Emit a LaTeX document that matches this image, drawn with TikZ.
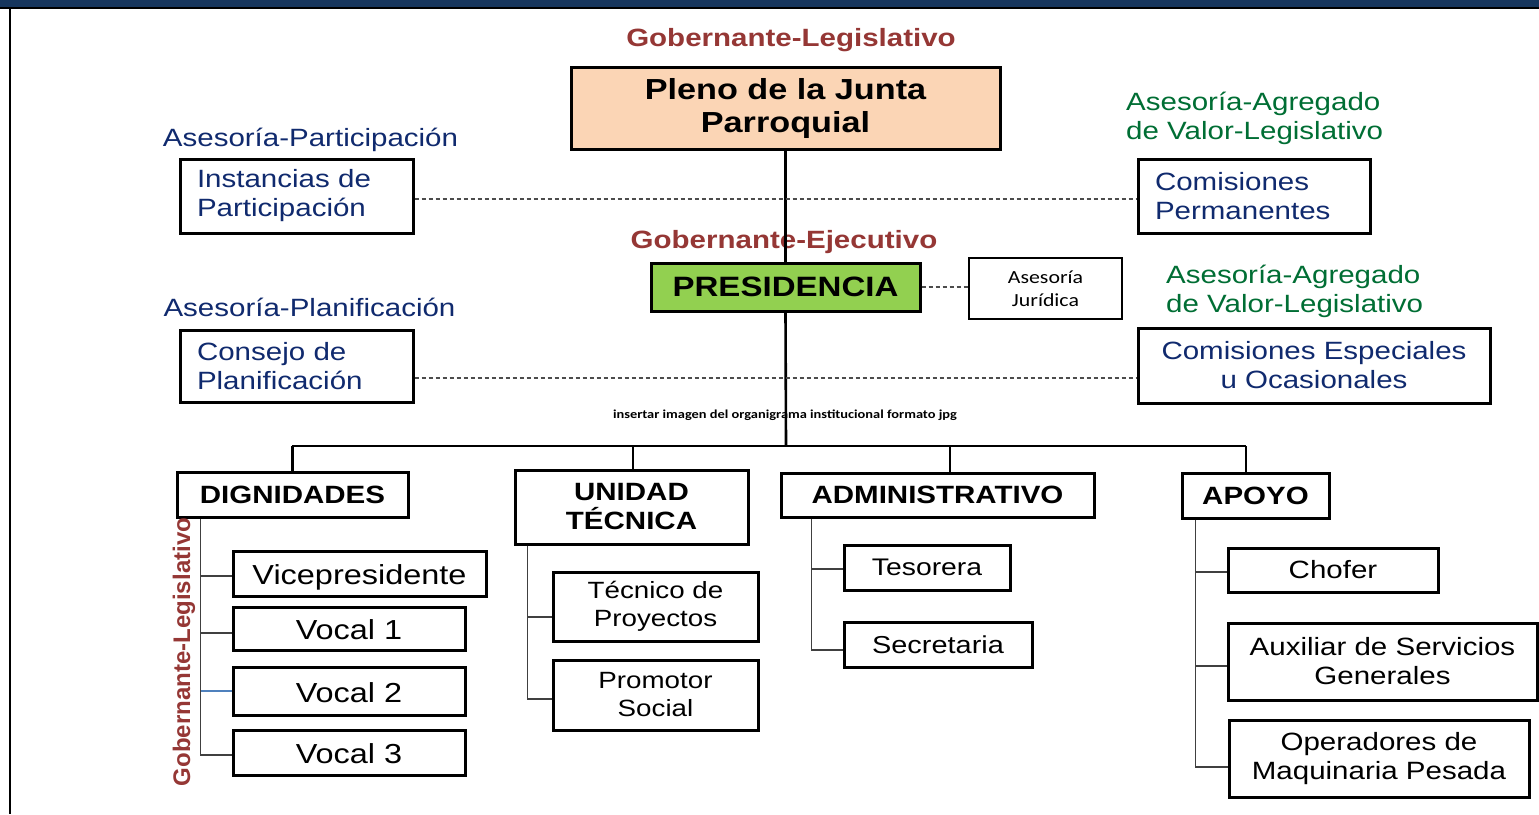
\documentclass[tikz,border=0pt]{standalone}
\usepackage{fontspec}
\setmainfont{Liberation Sans}[FakeStretch=1.18]
\newfontfamily\calib{Carlito}[FakeStretch=1.18]
\newfontfamily\plainsans{Liberation Sans}
\definecolor{dred}{RGB}{149,55,53}
\definecolor{dblue}{RGB}{16,42,110}
\definecolor{dgreen}{RGB}{0,110,52}
\definecolor{peach}{RGB}{251,213,181}
\definecolor{lgreen}{RGB}{146,208,80}
\definecolor{navybar}{RGB}{23,54,93}
\definecolor{lblue}{RGB}{79,129,189}
\tikzset{
  box/.style={draw=black, line width=3pt, inner sep=0pt, align=center, fill=white},
  hdr/.style={box, font=\bfseries\fontsize{25}{29}\selectfont},
  item/.style={box, font=\fontsize{25}{29}\selectfont},
  bigitem/.style={box, font=\fontsize{27.5}{32}\selectfont, text height=25pt, text depth=3pt},
  adv/.style={box, text=dblue, font=\fontsize{25}{29}\selectfont},
  advleft/.style={adv, align=left, inner xsep=17pt},
  redlab/.style={text=dred, font=\bfseries\fontsize{25}{29}\selectfont, inner sep=0pt},
  bluelab/.style={text=dblue, font=\fontsize{25}{29}\selectfont, inner sep=0pt},
  greenlab/.style={text=dgreen, font=\fontsize{25}{29}\selectfont, inner sep=0pt, align=left},
  mainln/.style={line width=2.6pt},
  subln/.style={line width=1.3pt, draw=black!75},
  dashln/.style={line width=1.2pt, dash pattern=on 4pt off 3pt, draw=black!70}
}
\begin{document}
\begin{tikzpicture}[x=1pt,y=-1pt]
\useasboundingbox (0,0) rectangle (1539,814);
\fill[white] (0,0) rectangle (1539,814);
\fill[navybar] (0,0) rectangle (1539,7);
\draw[line width=2pt] (0,8) -- (1539,8);
\draw[line width=2pt] (10,8) -- (10,814);

% top labels and boxes
\node[redlab] (glab) at (791,40.5) {Gobernante-Legislativo};
\node[box, fill=peach, minimum width=429pt, minimum height=82pt,
      font=\bfseries\fontsize{29}{33}\selectfont] (pleno) at (785.5,108.5) {Pleno de la Junta\\Parroquial};

\node[bluelab] (apart) at (310.5,139.5) {Asesoría-Participación};
\node[advleft, text width=199pt, minimum height=74pt] (inst) at (296.5,196) {Instancias de\\Participación};

\node[greenlab, anchor=west] (aval1) at (1126,118.5) {Asesoría-Agregado\\de Valor-Legislativo};
\node[advleft, text width=198pt, minimum height=74pt] (cperm) at (1254,196) {Comisiones\\Permanentes};

\node[bluelab] (aplan) at (309.5,307) {Asesoría-Planificación};
\node[advleft, text width=199pt, minimum height=72pt] (consejo) at (296.5,366) {Consejo de\\Planificación};

\node[greenlab, anchor=west] (aval2) at (1166,291.5) {Asesoría-Agregado\\de Valor-Legislativo};
\node[adv, minimum width=352pt, minimum height=75pt] (cesp) at (1314,365.5) {Comisiones Especiales\\u Ocasionales};

% main vertical
\node[box, fill=lgreen, minimum width=269pt, minimum height=48pt,
      font=\bfseries\fontsize{28}{32}\selectfont] (presid) at (785.5,287) {PRESIDENCIA};
\coordinate (busC) at (786,446);
\node[redlab] (gejec) at (784,242.5) {Gobernante-Ejecutivo};
\draw[mainln] (pleno.south) -- (presid.north);
\node[box, minimum width=153pt, minimum height=61pt, line width=2.4pt,
      font=\calib\fontsize{18.5}{23}\selectfont] (jur) at (1045.5,288.5) {Asesoría\\Jurídica};
\draw[dashln] (presid.east) -- (presid.east -| jur.west);

\node[font=\calib\bfseries\fontsize{12.2}{14}\selectfont, inner sep=0pt] (ins) at (785,415)
  {insertar imagen del organigrama institucional formato jpg};
\draw[mainln] (presid.south) -- (busC);

% dashed advisory links
\draw[dashln] ([yshift=-3pt]inst.east) -- ([yshift=-3pt]inst.east -| cperm.west);
\draw[dashln] ([yshift=-12pt]consejo.east) -- ([yshift=-12pt]consejo.east -| cesp.west);

% second level
\node[hdr, minimum width=231pt, minimum height=45pt] (dign) at (292.5,494.5) {DIGNIDADES};
\node[hdr, minimum width=233pt, minimum height=74pt] (unidad) at (631.5,507) {UNIDAD\\TÉCNICA};
\node[hdr, minimum width=313pt, minimum height=44pt] (admin) at (937.5,495) {ADMINISTRATIVO};
\node[hdr, minimum width=147pt, minimum height=45pt] (apoyo) at (1255.5,495.5) {APOYO};

\coordinate (busL) at (292,446);
\coordinate (busR) at (1246,446);
\draw[mainln] (busL) -- (busR);
\draw[mainln] (dign.north) -- (dign.north |- busL);
\draw[mainln] ([xshift=1.5pt]unidad.north) -- ([xshift=1.5pt]unidad.north |- busL);
\draw[mainln] ([xshift=12.5pt]admin.north) -- ([xshift=12.5pt]admin.north |- busL);
\draw[mainln] ([xshift=-9.5pt]apoyo.north) -- ([xshift=-9.5pt]apoyo.north |- busL);

% DIGNIDADES
\node[bigitem, minimum width=253pt, minimum height=45pt] (vice) at (359.5,573.5) {Vicepresidente};
\node[bigitem, minimum width=232pt, minimum height=43pt] (v1) at (349,628.5) {Vocal 1};
\node[bigitem, minimum width=232pt, minimum height=48pt] (v2) at (349,691) {Vocal 2};
\node[bigitem, minimum width=232pt, minimum height=45pt] (v3) at (349,752.5) {Vocal 3};
\coordinate (dL) at ([xshift=25pt]dign.south west);
\draw[subln] (dL) |- ([yshift=-2.5pt]v3.west);
\draw[subln] ([yshift=-2.5pt]vice.west) -- ([yshift=-2.5pt]vice.west -| dL);
\draw[subln] ([yshift=-4.5pt]v1.west) -- ([yshift=-4.5pt]v1.west -| dL);
\draw[line width=1.3pt, lblue] (v2.west) -- (v2.west -| dL);
\node[rotate=90, text=dred, font=\plainsans\bfseries\fontsize{24}{28}\selectfont, inner sep=0pt] (glab2) at (184,652) {Gobernante-Legislativo};

% UNIDAD TECNICA
\node[item, minimum width=205pt, minimum height=69pt, font=\fontsize{23.5}{28}\selectfont] (tec) at (655.5,606.5) {Técnico de\\Proyectos};
\node[item, minimum width=205pt, minimum height=70pt, font=\fontsize{23.5}{28}\selectfont] (prom) at (655.5,695) {Promotor\\Social};
\coordinate (uL) at ([xshift=14pt]unidad.south west);
\draw[subln] (uL) |- ([yshift=-4pt]prom.west);
\draw[subln] ([yshift=-10.5pt]tec.west) -- ([yshift=-10.5pt]tec.west -| uL);

% ADMINISTRATIVO
\node[item, minimum width=166pt, minimum height=45pt, font=\fontsize{24}{28}\selectfont] (tes) at (927,567.5) {Tesorera};
\node[item, minimum width=188pt, minimum height=45pt, font=\fontsize{24.5}{28}\selectfont] (sec) at (938,644.5) {Secretaria};
\coordinate (aL) at ([xshift=32pt]admin.south west);
\draw[subln] (aL) |- ([yshift=-5.5pt]sec.west);
\draw[subln] ([yshift=-1.5pt]tes.west) -- ([yshift=-1.5pt]tes.west -| aL);

% APOYO
\node[item, minimum width=210pt, minimum height=44pt] (chofer) at (1333,570) {Chofer};
\node[item, minimum width=309pt, minimum height=77pt] (aux) at (1382.5,661.5) {Auxiliar de Servicios\\Generales};
\node[item, minimum width=300pt, minimum height=77pt] (oper) at (1379,758.5) {Operadores de\\Maquinaria Pesada};
\coordinate (pL) at ([xshift=15pt]apoyo.south west);
\draw[subln] (pL) |- ([yshift=-8.5pt]oper.west);
\draw[subln] ([yshift=-2pt]chofer.west) -- ([yshift=-2pt]chofer.west -| pL);
\draw[subln] ([yshift=-4.5pt]aux.west) -- ([yshift=-4.5pt]aux.west -| pL);
\end{tikzpicture}
\end{document}
